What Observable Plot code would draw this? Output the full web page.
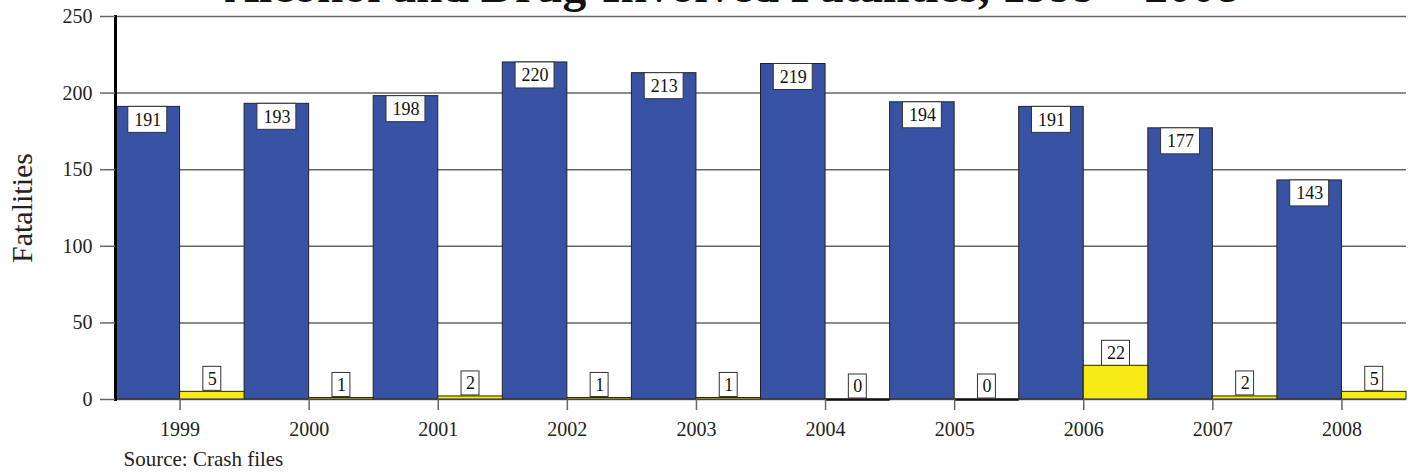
<!DOCTYPE html>
<html>
<head>
<meta charset="utf-8">
<script src="https://cdn.jsdelivr.net/npm/d3@7"></script>
<script src="https://cdn.jsdelivr.net/npm/@observablehq/plot@0.6"></script>
<style>
  html, body { margin: 0; padding: 0; background: #fff; }
</style>
</head>
<body>
<div id="chart"></div>
<script>
const years = [1999, 2000, 2001, 2002, 2003, 2004, 2005, 2006, 2007, 2008];
const alcoholFatalities = [191, 193, 198, 220, 213, 219, 194, 191, 177, 143];
const drugFatalities = [5, 1, 2, 1, 1, 0, 0, 22, 2, 5];
const yTicks = [0, 50, 100, 150, 200, 250];
const titleText = "Alcohol and Drug-Involved Fatalities, 1999 – 2008";
const yLabelText = "Fatalities";
const sourceText = "Source: Crash files";

const alcohol = years.map((year, i) => ({year, value: alcoholFatalities[i]}));
const drug = years.map((year, i) => ({year, value: drugFatalities[i]}));
const drugOneDigit = drug.filter(d => String(d.value).length === 1);
const drugTwoDigit = drug.filter(d => String(d.value).length === 2);

const BLUE = "#3853a3";
const YELLOW = "#f5ea14";
const SERIF = "'Liberation Serif', 'Times New Roman', Times, serif";

const boxStyle = {fill: "white", stroke: "#333", strokeWidth: 1};

const plot = Plot.plot({
  width: 1409,
  height: 472,
  marginTop: 16,
  marginBottom: 73,
  marginLeft: 115,
  marginRight: 3,
  style: {fontFamily: SERIF, fontSize: "20px", background: "white", color: "#222", overflow: "visible"},
  x: {domain: [years[0] - 0.5, years[years.length - 1] + 0.5]},
  y: {domain: [0, 250]},
  marks: [
    Plot.gridY({ticks: yTicks, stroke: "#666", strokeOpacity: 1, strokeWidth: 1.5}),
    Plot.rect(alcohol, {x1: d => d.year - 0.5, x2: d => d.year, y1: 0, y2: "value", fill: BLUE, stroke: "#222", strokeWidth: 1}),
    Plot.rect(drug, {x1: d => d.year, x2: d => d.year + 0.5, y1: 0, y2: "value", fill: YELLOW, stroke: "#222", strokeWidth: 1}),
    // zero-height bars still show their outline
    Plot.ruleY(drug, {filter: d => d.value === 0, x1: d => d.year, x2: d => d.year + 0.5, y: "value", stroke: "#111", strokeWidth: 2.5}),
    Plot.frame({anchor: "left", stroke: "black", strokeWidth: 3}),
    // label boxes
    Plot.rect(alcohol, {x1: d => d.year - 0.5, x2: d => d.year, y1: "value", y2: "value", insetLeft: 12.8, insetRight: 12.8, insetTop: 0, insetBottom: -26, ...boxStyle}),
    Plot.rect(drugOneDigit, {x1: d => d.year, x2: d => d.year + 0.5, y1: "value", y2: "value", insetLeft: 23.3, insetRight: 23.3, insetTop: -25, insetBottom: 1, ...boxStyle}),
    Plot.rect(drugTwoDigit, {x1: d => d.year, x2: d => d.year + 0.5, y1: "value", y2: "value", insetLeft: 18.3, insetRight: 18.3, insetTop: -25, insetBottom: 0, ...boxStyle}),
    // label texts
    Plot.text(alcohol, {x: d => d.year - 0.25, y: "value", text: d => String(d.value), dy: 13, lineAnchor: "middle", fontSize: 18, fill: "#111"}),
    Plot.text(drug, {x: d => d.year + 0.25, y: "value", text: d => String(d.value), dy: -13, lineAnchor: "middle", fontSize: 18, fill: "#111"}),
    // axes
    Plot.axisY({ticks: yTicks, tickSize: 15, tickPadding: 8, stroke: "#666", strokeWidth: 1.5, fill: "#222", fontSize: 20, label: null}),
    Plot.axisX({ticks: years, tickFormat: "d", tickSize: 11, tickPadding: 11, stroke: "#666", strokeWidth: 1.5, fill: "#222", fontSize: 20, label: null}),
    // texts
    Plot.text([titleText], {text: d => d, frameAnchor: "top", dx: -29, dy: -30, textAnchor: "middle", lineAnchor: "middle", fontSize: 47.5, fontWeight: "bold", fill: "#111"}),
    Plot.text([yLabelText], {text: d => d, frameAnchor: "left", rotate: -90, dx: -93, textAnchor: "middle", lineAnchor: "middle", fontSize: 30, fill: "#222"}),
    Plot.text([sourceText], {text: d => d, frameAnchor: "bottom-left", dx: 8, dy: 60, textAnchor: "start", lineAnchor: "middle", fontSize: 21, fill: "#222"})
  ]
});
document.getElementById("chart").appendChild(plot);
</script>
</body>
</html>
